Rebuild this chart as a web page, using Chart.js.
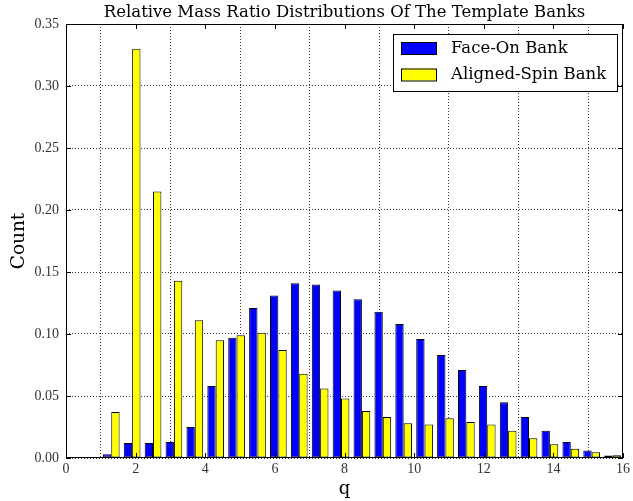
<!DOCTYPE html>
<html>
<head>
<meta charset="utf-8">
<script src="https://cdn.jsdelivr.net/npm/chart.js@4.4.1/dist/chart.umd.min.js"></script>
<style>
  html, body { margin: 0; padding: 0; background: #fff; }
  #wrap { width: 633px; height: 501px; }
</style>
</head>
<body>
<div id="wrap"><canvas id="massRatio" width="633" height="501"></canvas></div>
<script>
// bin centres (q), bins 0.6 wide from 1.0 to 16.0
const binCenters = [1.3, 1.9, 2.5, 3.1, 3.7, 4.3, 4.9, 5.5, 6.1, 6.7, 7.3, 7.9, 8.5,
  9.1, 9.7, 10.3, 10.9, 11.5, 12.1, 12.7, 13.3, 13.9, 14.5, 15.1, 15.7];
const faceOnBank = [0.003, 0.012, 0.012, 0.013, 0.025, 0.058, 0.097, 0.121, 0.131, 0.141,
  0.140, 0.135, 0.128, 0.118, 0.108, 0.096, 0.083, 0.071, 0.058, 0.045, 0.033, 0.022,
  0.013, 0.006, 0.002];
const alignedSpinBank = [0.037, 0.330, 0.215, 0.143, 0.111, 0.095, 0.099, 0.101, 0.087,
  0.068, 0.056, 0.048, 0.038, 0.033, 0.028, 0.027, 0.032, 0.029, 0.027, 0.022, 0.016,
  0.011, 0.0075, 0.0046, 0.0022];
const xTicks = [0, 2, 4, 6, 8, 10, 12, 14, 16];
const yTicks = [0, 0.05, 0.10, 0.15, 0.20, 0.25, 0.30, 0.35];

const chartTitle = 'Relative Mass Ratio Distributions Of The Template Banks';
const serif = "'DejaVu Serif', serif";
const tickFont = "'Liberation Serif', serif";

// matplotlib look: frame, inward ticks, title, legend inside the axes
const mplFrame = {
  id: 'mplFrame',
  afterDraw(chart) {
    const { ctx, chartArea: a, scales: { x, y } } = chart;
    ctx.save();
    ctx.strokeStyle = '#000';
    ctx.lineWidth = 1;
    ctx.strokeRect(a.left + 0.5, a.top + 0.5, a.right - a.left - 1, a.bottom - a.top - 1);

    ctx.beginPath();
    xTicks.forEach((v) => {
      const px = Math.round(x.getPixelForValue(v)) + 0.5;
      ctx.moveTo(px, a.bottom); ctx.lineTo(px, a.bottom - 5);
      ctx.moveTo(px, a.top); ctx.lineTo(px, a.top + 5);
    });
    yTicks.forEach((v) => {
      const py = Math.round(y.getPixelForValue(v)) + 0.5;
      ctx.moveTo(a.left, py); ctx.lineTo(a.left + 5, py);
      ctx.moveTo(a.right, py); ctx.lineTo(a.right - 5, py);
    });
    ctx.stroke();

    ctx.fillStyle = '#000';
    ctx.font = `16.5px ${serif}`;
    ctx.textAlign = 'center';
    ctx.textBaseline = 'alphabetic';
    ctx.fillText(chartTitle, (a.left + a.right) / 2, 17);

    // legend box
    const lx = 393, ly = 34, lw = 224, lh = 57;
    ctx.fillStyle = '#fff';
    ctx.fillRect(lx, ly, lw, lh);
    ctx.strokeRect(lx + 0.5, ly + 0.5, lw, lh);
    ctx.font = `16.5px ${serif}`;
    ctx.textAlign = 'left';
    ctx.textBaseline = 'middle';
    chart.data.datasets.forEach((ds, i) => {
      const ry = 42 + i * 26.5;
      ctx.fillStyle = ds.backgroundColor;
      ctx.fillRect(401, ry, 35, 12);
      ctx.strokeRect(401.5, ry + 0.5, 35, 12);
      ctx.fillStyle = '#000';
      ctx.fillText(ds.label, 451, ry + 6.5);
    });
    ctx.restore();
  },
};

new Chart(document.getElementById('massRatio'), {
  type: 'bar',
  data: {
    datasets: [
      {
        label: 'Face-On Bank',
        data: binCenters.map((q, i) => ({ x: q, y: faceOnBank[i] })),
        backgroundColor: '#0000ff',
      },
      {
        label: 'Aligned-Spin Bank',
        data: binCenters.map((q, i) => ({ x: q, y: alignedSpinBank[i] })),
        backgroundColor: '#ffff00',
      },
    ],
  },
  options: {
    responsive: false,
    animation: false,
    devicePixelRatio: 1,
    layout: { padding: { top: 24, right: 7, left: 0, bottom: 0 } },
    datasets: {
      bar: {
        borderColor: '#000',
        borderWidth: 1,
        borderSkipped: false,
        categoryPercentage: 0.8,
        barPercentage: 1.0,
      },
    },
    plugins: {
      legend: { display: false },
      title: { display: false },
      tooltip: { enabled: false },
    },
    scales: {
      x: {
        type: 'linear',
        min: 0,
        max: 16,
        offset: false,
        z: 1,
        afterBuildTicks: (scale) => { scale.ticks = xTicks.map((v) => ({ value: v })); },
        afterFit: (scale) => { scale.height = 43; },
        grid: { color: '#333', lineWidth: 1, drawTicks: false },
        border: { display: false, dash: [1, 2] },
        ticks: { padding: 3, color: '#333', font: { family: tickFont, size: 14 } },
        title: { display: true, text: 'q', color: '#000', font: { family: serif, size: 18 }, padding: { top: 0, bottom: 1 } },
      },
      y: {
        min: 0,
        max: 0.35,
        z: 1,
        afterBuildTicks: (scale) => { scale.ticks = yTicks.map((v) => ({ value: v })); },
        afterFit: (scale) => { scale.width = 66; },
        grid: { color: '#333', lineWidth: 1, drawTicks: false },
        border: { display: false, dash: [1, 2] },
        ticks: {
          padding: 7,
          color: '#333',
          font: { family: tickFont, size: 14 },
          callback: (v) => v.toFixed(2),
        },
        title: { display: true, text: 'Count', color: '#000', font: { family: serif, size: 18.5 }, padding: { top: 8, bottom: 0 } },
      },
    },
  },
  plugins: [mplFrame],
});
</script>
</body>
</html>
